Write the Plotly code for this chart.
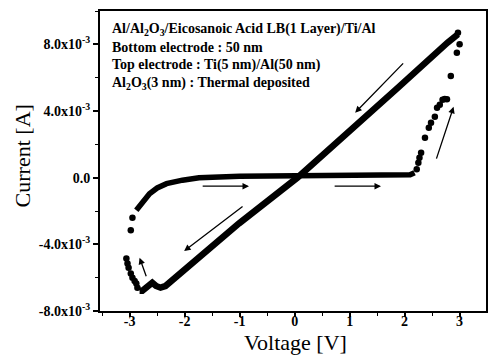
import plotly.graph_objects as go

# Continuous (dense) branches of the I-V sweep: voltage [V], current [A x 1e-3]
low_v = [-2.88, -2.78, -2.64, -2.5, -2.33, -2.04, -1.74, -1.0, 0.0, 1.0, 1.88, 2.1, 2.18]
low_i = [-1.96, -1.54, -0.96, -0.62, -0.36, -0.15, 0.0, 0.08, 0.12, 0.13, 0.15, 0.17, 0.3]

ohm_v = [2.97, 2.78, 1.88, 0.05, -1.01, -2.02, -2.3, -2.35, -2.44, -2.52, -2.59, -2.68, -2.77, -2.82]
ohm_i = [8.6, 8.1, 5.4, 0.0, -2.74, -5.57, -6.42, -6.5, -6.6, -6.5, -6.3, -6.6, -6.78, -6.78]

# Sparse points (switching regions)
sw_v = [2.22, 2.25, 2.27, 2.3, 2.37, 2.44, 2.48, 2.55, 2.59, 2.64, 2.69, 2.73, 2.77,
        2.84, 2.95, 3.0, 2.97,
        -2.86, -2.88, -2.91, -2.95, -2.98, -3.02, -3.04, -3.06, -2.98, -2.95]
sw_i = [0.5, 0.9, 1.2, 1.5, 2.4, 3.0, 3.3, 3.65, 4.2, 4.37, 4.67, 4.72, 4.7,
        6.1, 7.5, 8.0, 8.7,
        -6.6, -6.35, -6.2, -6.0, -5.75, -5.4, -5.15, -4.85, -3.16, -2.4]

scale = 1e-3

y_tickvals = [-8e-3, -4e-3, 0, 4e-3, 8e-3]
y_ticktext = ["-8.0x10<sup>-3</sup>", "-4.0x10<sup>-3</sup>", "0.0",
              "4.0x10<sup>-3</sup>", "8.0x10<sup>-3</sup>"]
x_tickvals = [-3, -2, -1, 0, 1, 2, 3]

info_lines = [
    "Al/Al<sub>2</sub>O<sub>3</sub>/Eicosanoic Acid LB(1 Layer)/Ti/Al",
    "Bottom electrode : 50 nm",
    "Top electrode : Ti(5 nm)/Al(50 nm)",
    "Al<sub>2</sub>O<sub>3</sub>(3 nm) : Thermal deposited",
]

# arrows: (tail_v, tail_i, head_v, head_i) in V and mA
arrows_tail_v = [2.0, 2.57, -1.7, 0.7, -0.92, -2.69]
arrows_tail_i = [6.95, 1.05, -0.51, -0.51, -1.66, -6.0]
arrows_head_v = [1.1, 2.89, -0.83, 1.57, -2.01, -2.82]
arrows_head_i = [3.9, 4.25, -0.51, -0.51, -4.4, -4.8]

FONT = "Liberation Serif"

fig = go.Figure()
fig.add_trace(go.Scatter(x=low_v, y=[v * scale for v in low_i], mode="lines",
                         line=dict(color="black", width=5.5), hoverinfo="skip"))
fig.add_trace(go.Scatter(x=ohm_v, y=[v * scale for v in ohm_i], mode="lines",
                         line=dict(color="black", width=6.5), hoverinfo="skip"))
fig.add_trace(go.Scatter(x=sw_v, y=[v * scale for v in sw_i], mode="markers",
                         marker=dict(color="black", size=6.5), hoverinfo="skip"))

L, T, W, H = 100, 11, 388, 300

annotations = []
for k, txt in enumerate(info_lines):
    py = [29, 47, 65, 83][k]
    annotations.append(dict(text="<b>" + txt + "</b>", xref="paper", yref="paper",
                            x=(110 - L) / W, y=(T + H - py) / H, xanchor="left", yanchor="middle",
                            showarrow=False, font=dict(family=FONT, size=14, color="black")))
for tv, ti, hv, hi in zip(arrows_tail_v, arrows_tail_i, arrows_head_v, arrows_head_i):
    annotations.append(dict(x=hv, y=hi * scale, ax=tv, ay=ti * scale, xref="x", yref="y",
                            axref="x", ayref="y", text="", showarrow=True,
                            arrowhead=2, arrowsize=1, arrowwidth=1.3, arrowcolor="black"))
annotations.append(dict(text="Voltage [V]", xref="paper", yref="paper",
                        x=(297 - L) / W, y=(T + H - 342) / H, xanchor="center", yanchor="middle",
                        showarrow=False, font=dict(family=FONT, size=22, color="black")))
annotations.append(dict(text="Current [A]", xref="paper", yref="paper",
                        x=(23 - L) / W, y=(T + H - 156) / H, xanchor="center", yanchor="middle",
                        textangle=-90, showarrow=False,
                        font=dict(family=FONT, size=22, color="black")))

fig.update_layout(
    width=488, height=361,
    margin=dict(l=L, r=488 - L - W, t=T, b=361 - T - H, pad=0),
    paper_bgcolor="white", plot_bgcolor="white",
    showlegend=False,
    annotations=annotations,
    xaxis=dict(range=[-3.54, 3.48], tickvals=x_tickvals,
               ticktext=["<b>%d</b>" % v for v in x_tickvals],
               ticks="outside", ticklen=4, tickwidth=1.5, tickcolor="black",
               ticklabelstandoff=-8,
               minor=dict(dtick=0.5, ticks="outside", ticklen=3, tickcolor="black", tickwidth=1.2),
               showline=True, linecolor="black", linewidth=2, mirror=True,
               showgrid=False, zeroline=False,
               tickfont=dict(family=FONT, size=14, color="black")),
    yaxis=dict(range=[-8e-3, 10e-3], tickvals=y_tickvals,
               ticktext=["<b>%s</b>" % t for t in y_ticktext],
               ticks="outside", ticklen=5, tickwidth=1.5, tickcolor="black",
               minor=dict(dtick=2e-3, ticks="outside", ticklen=3, tickcolor="black", tickwidth=1.2),
               showline=True, linecolor="black", linewidth=2, mirror=True,
               showgrid=False, zeroline=False,
               tickfont=dict(family=FONT, size=14, color="black")),
)

fig.write_html("out.html")
